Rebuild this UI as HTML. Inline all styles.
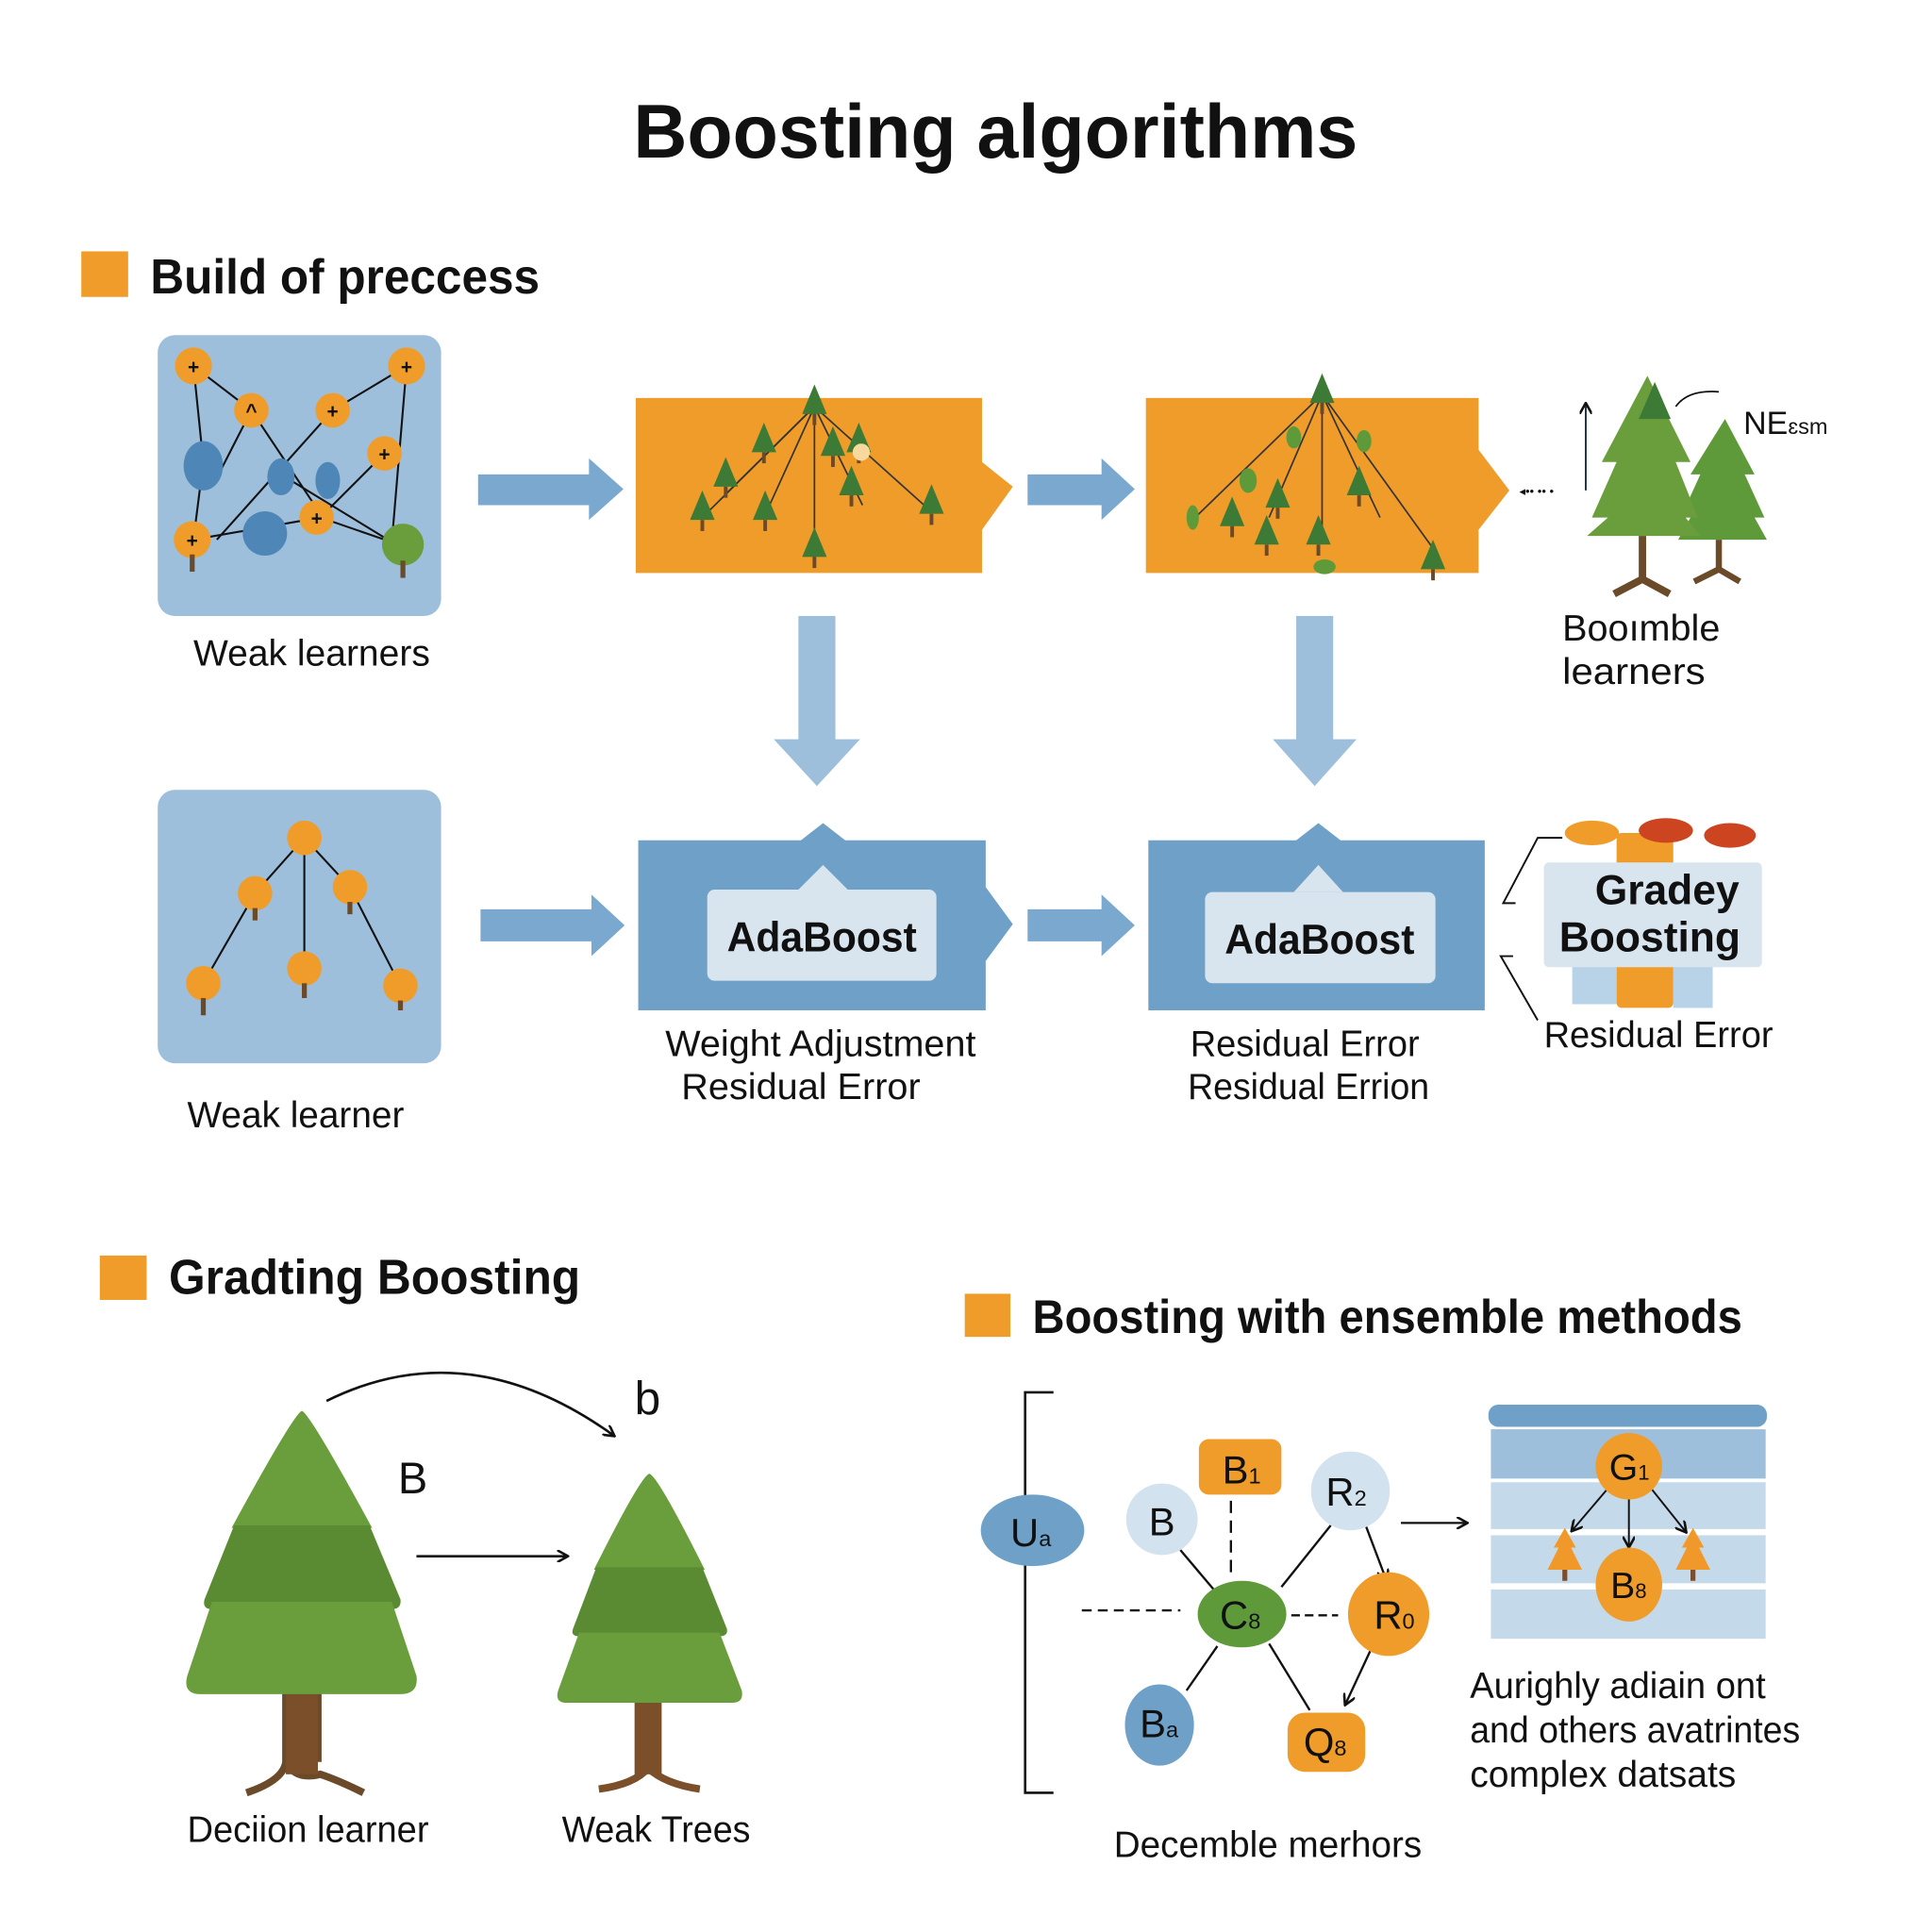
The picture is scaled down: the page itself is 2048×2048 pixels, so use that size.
<!DOCTYPE html>
<html><head><meta charset="utf-8"><style>
html,body{margin:0;padding:0;background:#fff;}
svg{display:block;}
text{font-family:"Liberation Sans",sans-serif;fill:#111;}
</style></head><body>
<svg width="2048" height="2048" viewBox="0 0 1568 1568" xmlns="http://www.w3.org/2000/svg">
<defs>
<marker id="ah" markerWidth="10" markerHeight="10" refX="8" refY="5" orient="auto" markerUnits="userSpaceOnUse"><path d="M0,0 L9,5 L0,10" fill="none" stroke="#111" stroke-width="2"/></marker>
<g id="ptree"><polygon points="0,-22 -10,2 10,2" fill="#3d7a35"/><rect x="-1.5" y="2" width="3" height="9" fill="#6b4a2a"/></g>
<g id="otree"><polygon points="0,-28 -9,-12 -5,-12 -14,6 14,6 5,-12 9,-12" fill="#f0992a"/><rect x="-2" y="6" width="4" height="9" fill="#7a5030"/></g>
</defs>
<rect width="1568" height="1568" fill="#fff"/>

<text x="808" y="128" font-size="62" font-weight="bold" text-anchor="middle" textLength="588" lengthAdjust="spacingAndGlyphs">Boosting algorithms</text>

<rect x="66" y="204" width="38" height="37" fill="#f09c2a"/>
<text x="122" y="238" font-size="40" font-weight="bold" textLength="316" lengthAdjust="spacingAndGlyphs">Build of preccess</text>

<rect x="128" y="272" width="230" height="228" rx="14" fill="#9dbfdb"/>
<g stroke="#111" stroke-width="1.6" fill="none">
<line x1="157" y1="297" x2="165" y2="375"/><line x1="157" y1="297" x2="204" y2="333"/>
<line x1="330" y1="297" x2="270" y2="333"/><line x1="330" y1="297" x2="318" y2="440"/>
<line x1="204" y1="333" x2="262" y2="420"/><line x1="270" y1="333" x2="176" y2="438"/>
<line x1="312" y1="368" x2="260" y2="420"/><line x1="165" y1="375" x2="157" y2="438"/>
<line x1="157" y1="438" x2="260" y2="420"/><line x1="260" y1="420" x2="318" y2="440"/>
<line x1="228" y1="385" x2="318" y2="440"/><line x1="204" y1="333" x2="180" y2="380"/>
</g>
<ellipse cx="165" cy="378" rx="16" ry="20" fill="#4f86b8"/>
<ellipse cx="228" cy="387" rx="11" ry="15" fill="#4f86b8"/>
<ellipse cx="266" cy="390" rx="10" ry="15" fill="#4f86b8"/>
<circle cx="215" cy="433" r="18" fill="#4f86b8"/>
<g fill="#f09c2a"><circle cx="157" cy="297" r="15"/><circle cx="330" cy="297" r="15"/><circle cx="204" cy="333" r="14"/><circle cx="270" cy="333" r="14"/><circle cx="312" cy="368" r="14"/><circle cx="257" cy="420" r="14"/><circle cx="156" cy="438" r="15"/></g>
<circle cx="327" cy="442" r="17" fill="#6a9e3c"/><rect x="325" y="455" width="4" height="14" fill="#6b4a2a"/>
<rect x="154" y="450" width="4" height="14" fill="#6b4a2a"/>
<g font-size="16" font-weight="bold" text-anchor="middle"><text x="157" y="303">+</text><text x="330" y="303">+</text><text x="204" y="339">^</text><text x="270" y="339">+</text><text x="312" y="374">+</text><text x="257" y="426">+</text><text x="156" y="444">+</text></g>
<text x="157" y="540" font-size="30" textLength="192" lengthAdjust="spacingAndGlyphs">Weak learners</text>

<polygon points="388,385 478,385 478,372 506,397 478,422 478,410 388,410" fill="#7aa8cf"/>
<polygon points="834,385 894,385 894,372 921,397 894,422 894,410 834,410" fill="#7aa8cf"/>

<polygon points="516,323 797,323 797,375 822,395 797,430 797,465 516,465" fill="#f09c2a"/>
<g stroke="#333" stroke-width="1.3"><line x1="661" y1="330" x2="590" y2="400"/><line x1="661" y1="330" x2="620" y2="420"/><line x1="661" y1="330" x2="661" y2="455"/><line x1="661" y1="330" x2="700" y2="410"/><line x1="661" y1="330" x2="750" y2="410"/><line x1="661" y1="330" x2="570" y2="420"/></g>
<g><use href="#ptree" x="661" y="334"/><use href="#ptree" x="620" y="365"/><use href="#ptree" x="697" y="365"/><use href="#ptree" x="589" y="393"/><use href="#ptree" x="691" y="400"/><use href="#ptree" x="570" y="420"/><use href="#ptree" x="621" y="420"/><use href="#ptree" x="756" y="415"/><use href="#ptree" x="661" y="450"/><use href="#ptree" x="676" y="368"/></g>
<circle cx="699" cy="367" r="7" fill="#f7d9a0"/>

<polygon points="930,323 1200,323 1200,365 1225,398 1200,430 1200,465 930,465" fill="#f09c2a"/>
<g stroke="#333" stroke-width="1.3"><line x1="1073" y1="320" x2="970" y2="420"/><line x1="1073" y1="320" x2="1030" y2="420"/><line x1="1073" y1="320" x2="1073" y2="440"/><line x1="1073" y1="320" x2="1120" y2="420"/><line x1="1073" y1="320" x2="1163" y2="445"/></g>
<g><use href="#ptree" x="1073" y="325"/><use href="#ptree" x="1037" y="410"/><use href="#ptree" x="1000" y="425"/><use href="#ptree" x="1028" y="440"/><use href="#ptree" x="1070" y="440"/><use href="#ptree" x="1103" y="400"/><use href="#ptree" x="1163" y="460"/></g>
<g fill="#5e9a3a"><ellipse cx="1050" cy="355" rx="6" ry="9"/><ellipse cx="1107" cy="358" rx="6" ry="9"/><ellipse cx="1013" cy="390" rx="7" ry="10"/><ellipse cx="1075" cy="460" rx="9" ry="6"/><ellipse cx="968" cy="420" rx="5" ry="10"/></g>

<line x1="1287" y1="398" x2="1287" y2="328" stroke="#234" stroke-width="1.5" marker-end="url(#ah)"/>
<text x="1233" y="402" font-size="10" fill="#234">◂•• •• •</text>
<g>
<polygon points="1400,340 1372,385 1380,385 1364,420 1372,420 1362,438 1434,438 1424,420 1432,420 1416,385 1424,385" fill="#5e9a3a"/>
<path d="M1395,438 L1395,462 L1375,472 M1395,462 L1412,472" stroke="#6b4a2a" stroke-width="5" fill="none"/>
<polygon points="1337,305 1300,375 1312,375 1292,420 1305,420 1288,435 1380,435 1368,420 1378,420 1360,375 1372,375" fill="#6a9e3c"/>
<polygon points="1343,310 1330,340 1356,340" fill="#3d7a35"/>
<path d="M1333,435 L1333,470 L1310,482 M1333,470 L1355,482" stroke="#6b4a2a" stroke-width="6" fill="none"/>
<path d="M1360,330 Q1370,316 1395,318" stroke="#111" stroke-width="1.3" fill="none"/>
</g>
<text x="1415" y="352" font-size="26">NE<tspan font-size="18">ɛsm</tspan></text>
<text x="1268" y="520" font-size="30" textLength="128" lengthAdjust="spacingAndGlyphs">Booımble</text>
<text x="1268" y="555" font-size="30" textLength="116" lengthAdjust="spacingAndGlyphs">learners</text>

<polygon points="648,500 678,500 678,600 698,600 663,638 628,600 648,600" fill="#9dbfdb"/>
<polygon points="1052,500 1082,500 1082,600 1101,600 1067,638 1033,600 1052,600" fill="#9dbfdb"/>

<rect x="128" y="641" width="230" height="222" rx="14" fill="#9dbfdb"/>
<g stroke="#111" stroke-width="1.6"><line x1="247" y1="680" x2="207" y2="725"/><line x1="247" y1="680" x2="284" y2="720"/><line x1="207" y1="725" x2="165" y2="798"/><line x1="247" y1="680" x2="247" y2="786"/><line x1="284" y1="720" x2="325" y2="800"/></g>
<g fill="#f09c2a"><circle cx="247" cy="680" r="14"/><circle cx="207" cy="725" r="14"/><circle cx="284" cy="720" r="14"/><circle cx="165" cy="798" r="14"/><circle cx="247" cy="786" r="14"/><circle cx="325" cy="800" r="14"/></g>
<g fill="#6b4a2a"><rect x="205" y="737" width="4" height="10"/><rect x="282" y="732" width="4" height="10"/><rect x="163" y="810" width="4" height="14"/><rect x="245" y="798" width="4" height="12"/><rect x="323" y="812" width="4" height="8"/></g>
<text x="152" y="915" font-size="30" textLength="176" lengthAdjust="spacingAndGlyphs">Weak learner</text>

<polygon points="390,738 480,738 480,726 507,751 480,776 480,764 390,764" fill="#7aa8cf"/>
<polygon points="834,738 894,738 894,726 921,751 894,776 894,764 834,764" fill="#7aa8cf"/>

<polygon points="518,682 650,682 668,668 686,682 800,682 800,720 822,750 800,780 800,820 518,820" fill="#6fa0c8"/>
<rect x="574" y="722" width="186" height="74" rx="6" fill="#d8e5ef"/>
<polygon points="648,722 668,702 688,722" fill="#d8e5ef"/>
<text x="667" y="772" font-size="34" font-weight="bold" text-anchor="middle" textLength="154" lengthAdjust="spacingAndGlyphs">AdaBoost</text>
<text x="540" y="857" font-size="30" textLength="252" lengthAdjust="spacingAndGlyphs">Weight Adjustment</text>
<text x="553" y="892" font-size="30" textLength="194" lengthAdjust="spacingAndGlyphs">Residual Error</text>

<polygon points="932,682 1052,682 1070,668 1088,682 1205,682 1205,820 932,820" fill="#6fa0c8"/>
<rect x="978" y="724" width="187" height="74" rx="6" fill="#d8e5ef"/>
<polygon points="1050,724 1070,702 1090,724" fill="#d8e5ef"/>
<text x="1071" y="774" font-size="34" font-weight="bold" text-anchor="middle" textLength="154" lengthAdjust="spacingAndGlyphs">AdaBoost</text>
<text x="966" y="857" font-size="30" textLength="186" lengthAdjust="spacingAndGlyphs">Residual Error</text>
<text x="964" y="892" font-size="30" textLength="196" lengthAdjust="spacingAndGlyphs">Residual Errion</text>

<rect x="1276" y="770" width="36" height="45" fill="#b8d2e8"/><rect x="1358" y="770" width="32" height="48" fill="#b8d2e8"/>
<rect x="1312" y="676" width="46" height="142" rx="4" fill="#f09c2a"/>
<ellipse cx="1292" cy="676" rx="22" ry="10" fill="#f09c2a"/><ellipse cx="1352" cy="674" rx="22" ry="10" fill="#cc4420"/><ellipse cx="1404" cy="678" rx="21" ry="10" fill="#cc4420"/>
<rect x="1253" y="700" width="177" height="85" rx="4" fill="#d8e5ef"/>
<text x="1353" y="734" font-size="34" font-weight="bold" text-anchor="middle">Gradey</text>
<text x="1339" y="772" font-size="34" font-weight="bold" text-anchor="middle">Boosting</text>
<path d="M1268,680 L1248,680 L1220,733 L1230,733" stroke="#111" stroke-width="1.5" fill="none"/>
<path d="M1228,776 L1218,776 L1248,828" stroke="#111" stroke-width="1.5" fill="none"/>
<text x="1253" y="850" font-size="30" textLength="186" lengthAdjust="spacingAndGlyphs">Residual Error</text>

<rect x="81" y="1019" width="38" height="36" fill="#f09c2a"/>
<text x="137" y="1050" font-size="40" font-weight="bold" textLength="334" lengthAdjust="spacingAndGlyphs">Gradting Boosting</text>

<path d="M232,1370 L232,1430 Q230,1445 200,1455 M232,1430 Q240,1445 260,1440 Q275,1445 295,1455 M258,1370 L258,1430" stroke="#6b4a2a" stroke-width="6" fill="none"/>
<rect x="232" y="1370" width="26" height="70" fill="#7a4f2a"/>
<path d="M245,1145 Q238,1148 188,1240 L302,1240 Q252,1148 245,1145Z" fill="#6a9e3c"/>
<path d="M190,1238 L300,1238 L325,1298 Q326,1306 318,1306 L172,1306 Q164,1306 166,1298Z" fill="#5a8a32"/>
<path d="M172,1300 L318,1300 L338,1360 Q340,1375 325,1375 L163,1375 Q148,1375 152,1360Z" fill="#6a9e3c"/>
<rect x="515" y="1378" width="22" height="62" fill="#7a4f2a"/>
<path d="M526,1435 Q515,1448 486,1452 M526,1435 Q540,1448 568,1452" stroke="#7a4f2a" stroke-width="6" fill="none"/>
<path d="M527,1196 Q520,1198 482,1274 L572,1274 Q534,1198 527,1196Z" fill="#6a9e3c"/>
<path d="M484,1272 L570,1272 L590,1322 Q591,1328 584,1328 L470,1328 Q463,1328 465,1322Z" fill="#5a8a32"/>
<path d="M470,1325 L584,1325 L602,1372 Q604,1382 594,1382 L460,1382 Q450,1382 453,1372Z" fill="#6a9e3c"/>
<path d="M265,1137 Q380,1080 498,1165" stroke="#111" stroke-width="2" fill="none" marker-end="url(#ah)"/>
<text x="515" y="1148" font-size="38">b</text>
<text x="323" y="1212" font-size="36">B</text>
<line x1="338" y1="1263" x2="460" y2="1263" stroke="#111" stroke-width="2" marker-end="url(#ah)"/>
<text x="152" y="1495" font-size="30" textLength="196" lengthAdjust="spacingAndGlyphs">Deciion learner</text>
<text x="456" y="1495" font-size="30" textLength="153" lengthAdjust="spacingAndGlyphs">Weak Trees</text>

<rect x="783" y="1050" width="37" height="35" fill="#f09c2a"/>
<text x="838" y="1082" font-size="38" font-weight="bold" textLength="576" lengthAdjust="spacingAndGlyphs">Boosting with ensemble methods</text>

<path d="M855,1130 L832,1130 L832,1455 L855,1455" stroke="#111" stroke-width="2" fill="none"/>
<g stroke="#111" stroke-width="1.8" fill="none">
<line x1="878" y1="1307" x2="958" y2="1307" stroke-dasharray="8,5"/>
<line x1="1048" y1="1311" x2="1086" y2="1311" stroke-dasharray="7,4"/>
<line x1="999" y1="1218" x2="999" y2="1280" stroke-dasharray="10,6"/>
<line x1="958" y1="1258" x2="985" y2="1290"/>
<line x1="1080" y1="1238" x2="1040" y2="1288"/>
<line x1="1108" y1="1237" x2="1125" y2="1282" marker-end="url(#ah)"/>
<line x1="1112" y1="1340" x2="1092" y2="1383" marker-end="url(#ah)"/>
<line x1="988" y1="1336" x2="963" y2="1372"/>
<line x1="1030" y1="1334" x2="1063" y2="1388"/>
<line x1="1137" y1="1236" x2="1190" y2="1236" marker-end="url(#ah)"/>
</g>
<ellipse cx="838" cy="1242" rx="42" ry="29" fill="#6fa0c8"/>
<text x="820" y="1255" font-size="32">U<tspan font-size="18">a</tspan></text>
<circle cx="943" cy="1233" r="29" fill="#d2e2ee"/>
<text x="943" y="1246" font-size="32" text-anchor="middle">B</text>
<rect x="973" y="1168" width="67" height="45" rx="8" fill="#f09c2a"/>
<text x="992" y="1204" font-size="32">B<tspan font-size="18">1</tspan></text>
<circle cx="1096" cy="1210" r="32" fill="#d2e2ee"/>
<text x="1076" y="1222" font-size="32">R<tspan font-size="18">2</tspan></text>
<ellipse cx="1008" cy="1310" rx="36" ry="27" fill="#5e9a3a"/>
<text x="990" y="1322" font-size="32">C<tspan font-size="18">8</tspan></text>
<ellipse cx="1127" cy="1310" rx="33" ry="34" fill="#f09c2a"/>
<text x="1115" y="1322" font-size="32">R<tspan font-size="18">0</tspan></text>
<ellipse cx="941" cy="1400" rx="28" ry="33" fill="#6fa0c8"/>
<text x="925" y="1410" font-size="32">B<tspan font-size="18">a</tspan></text>
<rect x="1045" y="1390" width="63" height="48" rx="14" fill="#f09c2a"/>
<text x="1058" y="1425" font-size="32">Q<tspan font-size="18">8</tspan></text>

<rect x="1208" y="1140" width="226" height="18" rx="8" fill="#6fa0c8"/>
<rect x="1210" y="1160" width="223" height="40" fill="#9dbfdb"/>
<rect x="1210" y="1203" width="223" height="38" fill="#c4daeb"/>
<rect x="1210" y="1246" width="223" height="39" fill="#c4daeb"/>
<rect x="1210" y="1290" width="223" height="40" fill="#c4daeb"/>
<g stroke="#111" stroke-width="1.5"><line x1="1305" y1="1208" x2="1276" y2="1242" marker-end="url(#ah)"/><line x1="1322" y1="1215" x2="1322" y2="1255" marker-end="url(#ah)"/><line x1="1340" y1="1208" x2="1368" y2="1243" marker-end="url(#ah)"/></g>
<use href="#otree" x="1270" y="1268"/><use href="#otree" x="1374" y="1268"/>
<circle cx="1322" cy="1190" r="27" fill="#f09c2a"/>
<text x="1306" y="1201" font-size="30">G<tspan font-size="17">1</tspan></text>
<ellipse cx="1322" cy="1286" rx="27" ry="30" fill="#f09c2a"/>
<text x="1307" y="1297" font-size="30">B<tspan font-size="17">8</tspan></text>

<text x="1193" y="1378" font-size="30" textLength="240" lengthAdjust="spacingAndGlyphs">Aurighly adiain ont</text>
<text x="1193" y="1414" font-size="30" textLength="268" lengthAdjust="spacingAndGlyphs">and others avatrintes</text>
<text x="1193" y="1450" font-size="30" textLength="216" lengthAdjust="spacingAndGlyphs">complex datsats</text>
<text x="904" y="1507" font-size="30" textLength="250" lengthAdjust="spacingAndGlyphs">Decemble merhors</text>
</svg>
</body></html>
